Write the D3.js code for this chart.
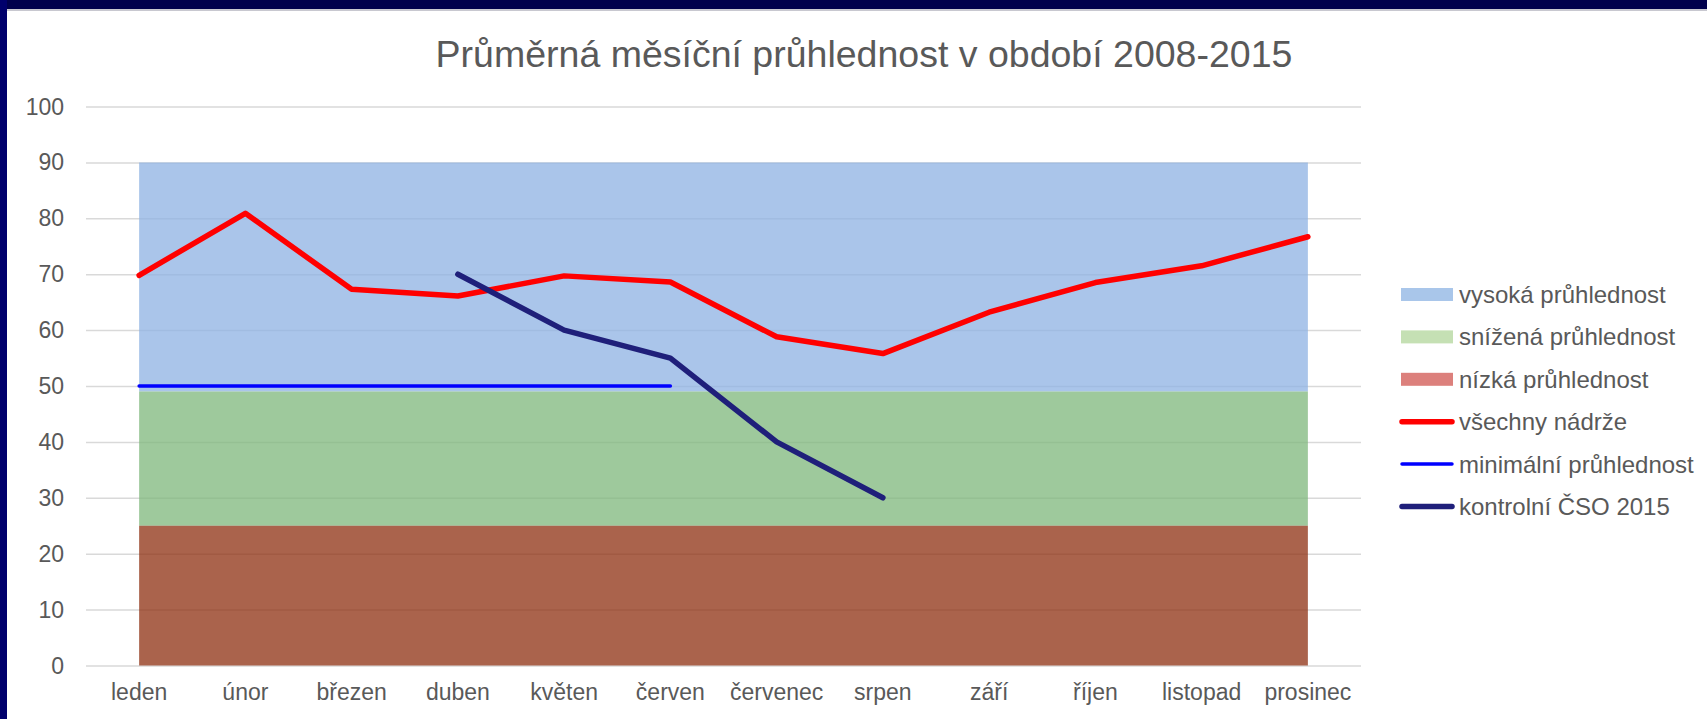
<!DOCTYPE html>
<html>
<head>
<meta charset="utf-8">
<script src="https://cdn.jsdelivr.net/npm/d3@7"></script>
<style>
  html, body { margin: 0; padding: 0; background: #fff; }
  svg { display: block; font-family: "Liberation Sans", Arial, sans-serif; }
</style>
</head>
<body>
<svg id="chart" width="1707" height="719"></svg>
<script>
// ── Data ───────────────────────────────────────────────────────────────────
const MONTHS = ['leden', 'únor', 'březen', 'duben', 'květen', 'červen',
  'červenec', 'srpen', 'září', 'říjen', 'listopad', 'prosinec'];

// threshold bands (stacked tops)
const LOW     = [25, 25, 25, 25, 25, 25, 25, 25, 25, 25, 25, 25];
const REDUCED = [49, 49, 49, 49, 49, 49, 49, 49, 49, 49, 49, 49];
const HIGH    = [90, 90, 90, 90, 90, 90, 90, 90, 90, 90, 90, 90];

const ALL_TANKS = [69.8, 80.9, 67.3, 66.1, 69.7, 68.6, 58.8, 55.8, 63.2, 68.5, 71.5, 76.7];
const MIN_CLARITY = [50, 50, 50, 50, 50, 50, null, null, null, null, null, null];
const CSO_2015 = [null, null, null, 70, 60, 55, 40, 30, null, null, null, null];

const Y_TICKS = [0, 10, 20, 30, 40, 50, 60, 70, 80, 90, 100];

const LEGEND = [
  { label: 'vysoká průhlednost',    type: 'rect', color: '#a9c6ea' },
  { label: 'snížená průhlednost',   type: 'rect', color: '#c5e0b4' },
  { label: 'nízká průhlednost',     type: 'rect', color: '#dc807c' },
  { label: 'všechny nádrže',        type: 'line', color: '#ff0000', w: 5.5 },
  { label: 'minimální průhlednost', type: 'line', color: '#0000ff', w: 3.5 },
  { label: 'kontrolní ČSO 2015',    type: 'line', color: '#1f1f7a', w: 5.5 },
];

// ── Setup ──────────────────────────────────────────────────────────────────
const svg = d3.select('#chart');
const TEXT = '#595959';

const x = d3.scalePoint().domain(MONTHS).range([86, 1361]).padding(0.5);
const y = d3.scaleLinear().domain([0, 100]).range([665.5, 106.5]);

// frame
svg.append('rect').attr('x', 0).attr('y', 0).attr('width', 1707).attr('height', 719).attr('fill', '#fff');
svg.append('rect').attr('x', 0).attr('y', 9).attr('width', 1707).attr('height', 2).attr('fill', '#c8c8d0');
svg.append('rect').attr('x', 0).attr('y', 0).attr('width', 1707).attr('height', 9).attr('fill', '#00004c');
svg.append('rect').attr('x', 0).attr('y', 0).attr('width', 7).attr('height', 719).attr('fill', '#00006c');

// title
svg.append('text')
  .attr('x', 864).attr('y', 67)
  .attr('text-anchor', 'middle')
  .attr('fill', TEXT)
  .attr('font-size', '37.5px')
  .text('Průměrná měsíční průhlednost v období 2008-2015');

// ── Gridlines ──────────────────────────────────────────────────────────────
svg.append('g')
  .attr('transform', 'translate(86,0)')
  .call(d3.axisLeft(y).tickValues(Y_TICKS).tickSize(-1275).tickFormat(''))
  .call(g => g.select('.domain').remove())
  .call(g => g.selectAll('line').attr('stroke', '#d9d9d9').attr('stroke-width', 1.5));

// y tick labels
svg.append('g')
  .selectAll('text').data(Y_TICKS).join('text')
  .attr('x', 64).attr('y', d => y(d))
  .attr('dy', '0.35em')
  .attr('text-anchor', 'end')
  .attr('fill', TEXT)
  .attr('font-size', '23px')
  .text(d => d);

// ── Bands (areas) ──────────────────────────────────────────────────────────
const zero = MONTHS.map(() => 0);
const bands = [
  { lo: REDUCED, hi: HIGH,    color: '#8eb2e3' },
  { lo: LOW,     hi: REDUCED, color: '#7eb77b' },
  { lo: zero,    hi: LOW,     color: '#8e2f10' },
];
const area = d3.area()
  .x((d, i) => x(MONTHS[i]))
  .y0(d => y(d[0]))
  .y1(d => y(d[1]));
bands.forEach(b => {
  svg.append('path')
    .datum(MONTHS.map((_, i) => [b.lo[i], b.hi[i]]))
    .attr('fill', b.color)
    .attr('fill-opacity', 0.75)
    .attr('d', area);
});

// x labels
svg.append('g')
  .selectAll('text').data(MONTHS).join('text')
  .attr('x', d => x(d)).attr('y', 700)
  .attr('text-anchor', 'middle')
  .attr('fill', TEXT)
  .attr('font-size', '23px')
  .text(d => d);

// ── Lines ──────────────────────────────────────────────────────────────────
const line = d3.line()
  .defined(d => d != null)
  .x((d, i) => x(MONTHS[i]))
  .y(d => y(d));

[[MIN_CLARITY, '#0000ff', 3.5], [ALL_TANKS, '#ff0000', 5.5], [CSO_2015, '#1f1f7a', 5.5]]
  .forEach(([vals, color, w]) => {
    svg.append('path')
      .datum(vals)
      .attr('fill', 'none')
      .attr('stroke', color)
      .attr('stroke-width', w)
      .attr('stroke-linecap', 'round')
      .attr('stroke-linejoin', 'round')
      .attr('d', line);
  });

// ── Legend ─────────────────────────────────────────────────────────────────
const legG = svg.append('g');
LEGEND.forEach((it, i) => {
  const cy = 294.5 + i * 42.4;
  if (it.type === 'rect') {
    legG.append('rect')
      .attr('x', 1401).attr('y', cy - 6.5)
      .attr('width', 52).attr('height', 13)
      .attr('fill', it.color);
  } else {
    legG.append('line')
      .attr('x1', 1402).attr('x2', 1452)
      .attr('y1', cy).attr('y2', cy)
      .attr('stroke', it.color)
      .attr('stroke-width', it.w)
      .attr('stroke-linecap', 'round');
  }
  legG.append('text')
    .attr('x', 1459).attr('y', cy)
    .attr('dy', '0.35em')
    .attr('fill', TEXT)
    .attr('font-size', '24px')
    .text(it.label);
});
</script>
</body>
</html>
